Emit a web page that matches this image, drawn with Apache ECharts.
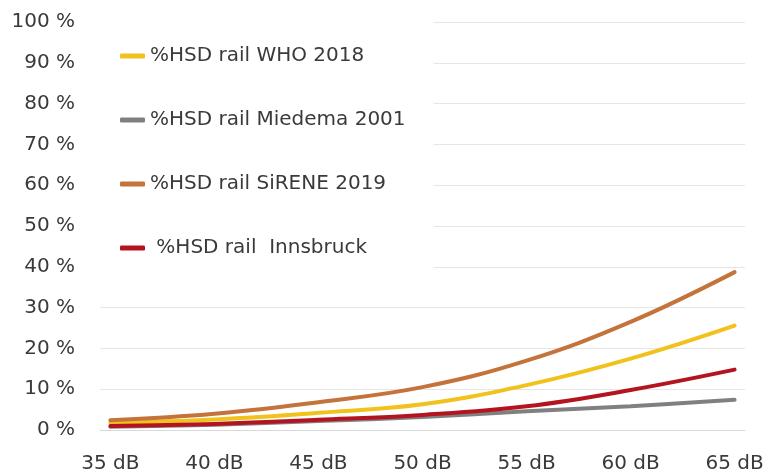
<!DOCTYPE html>
<html>
<head>
<meta charset="utf-8">
<script src="https://cdn.jsdelivr.net/npm/echarts@6/dist/echarts.min.js"></script>
<style>
  html, body { margin: 0; padding: 0; background: #fff; }
  #chart { width: 767px; height: 474px; }
</style>
</head>
<body>
<div id="chart"></div>
<script>
// 1 dB steps, labels every 5 dB
var levels = [35, 36, 37, 38, 39, 40, 41, 42, 43, 44, 45, 46, 47, 48, 49, 50,
  51, 52, 53, 54, 55, 56, 57, 58, 59, 60, 61, 62, 63, 64, 65];
// values read at 35, 40, 45 ... 65 dB
var readAt = [35, 40, 45, 50, 55, 60, 65];
var who2018 = [1.8, 2.6, 4.2, 6.3, 11, 17.5, 25.6];
var miedema2001 = [0.8, 1.3, 2.2, 3.2, 4.6, 5.8, 7.4];
var sirene2019 = [2.4, 4, 6.8, 10.5, 17, 26.5, 38.7];
var innsbruck = [1, 1.5, 2.5, 3.7, 5.8, 9.8, 14.8];

var names = ['%HSD rail WHO 2018', '%HSD rail Miedema 2001', '%HSD rail SiRENE 2019', ' %HSD rail  Innsbruck'];
var colors = ['#F1C21B', '#808080', '#C4733A', '#B3141F'];

// spread the read values over the category slots
function toSlots(vals) {
  return levels.map(function (l) {
    var i = readAt.indexOf(l);
    return i < 0 ? null : vals[i];
  });
}

var font = 'DejaVu Sans';
var chart = echarts.init(document.getElementById('chart'));

function line(idx, vals) {
  return {
    name: names[idx],
    type: 'line',
    data: toSlots(vals),
    connectNulls: true,
    smooth: 0.4,
    showSymbol: false,
    z: 2 + idx,
    lineStyle: { color: colors[idx], width: 4, cap: 'round' },
    itemStyle: { color: colors[idx] }
  };
}

var option = {
  animation: false,
  backgroundColor: '#fff',
  grid: { left: 100, right: 22, top: 22, bottom: 42 },
  legend: {
    orient: 'vertical',
    left: 98,
    top: 18,
    padding: [28, 28, 14, 22],
    backgroundColor: '#fff',
    itemWidth: 25,
    itemHeight: 5,
    itemGap: 44,
    icon: 'roundRect',
    selectedMode: false,
    textStyle: { fontFamily: font, fontSize: 20, color: '#3a3a3a', lineHeight: 20 },
    data: names
  },
  xAxis: {
    type: 'category',
    boundaryGap: true,
    data: levels,
    axisLine: { lineStyle: { color: '#d9d9d9' } },
    axisTick: { interval: 4, length: 6, lineStyle: { color: '#d9d9d9' } },
    axisLabel: {
      interval: 4,
      margin: 24,
      fontFamily: font,
      fontSize: 20,
      color: '#3a3a3a',
      formatter: function (v) { return v + ' dB'; }
    }
  },
  yAxis: {
    type: 'value',
    min: 0,
    max: 100,
    interval: 10,
    axisLine: { show: false },
    axisTick: { show: false },
    splitLine: { lineStyle: { color: '#e6e6e6' } },
    axisLabel: {
      margin: 25,
      fontFamily: font,
      fontSize: 20,
      color: '#3a3a3a',
      formatter: '{value} %'
    }
  },
  series: [
    line(0, who2018),
    line(1, miedema2001),
    line(2, sirene2019),
    line(3, innsbruck)
  ]
};

chart.setOption(option);
</script>
</body>
</html>
